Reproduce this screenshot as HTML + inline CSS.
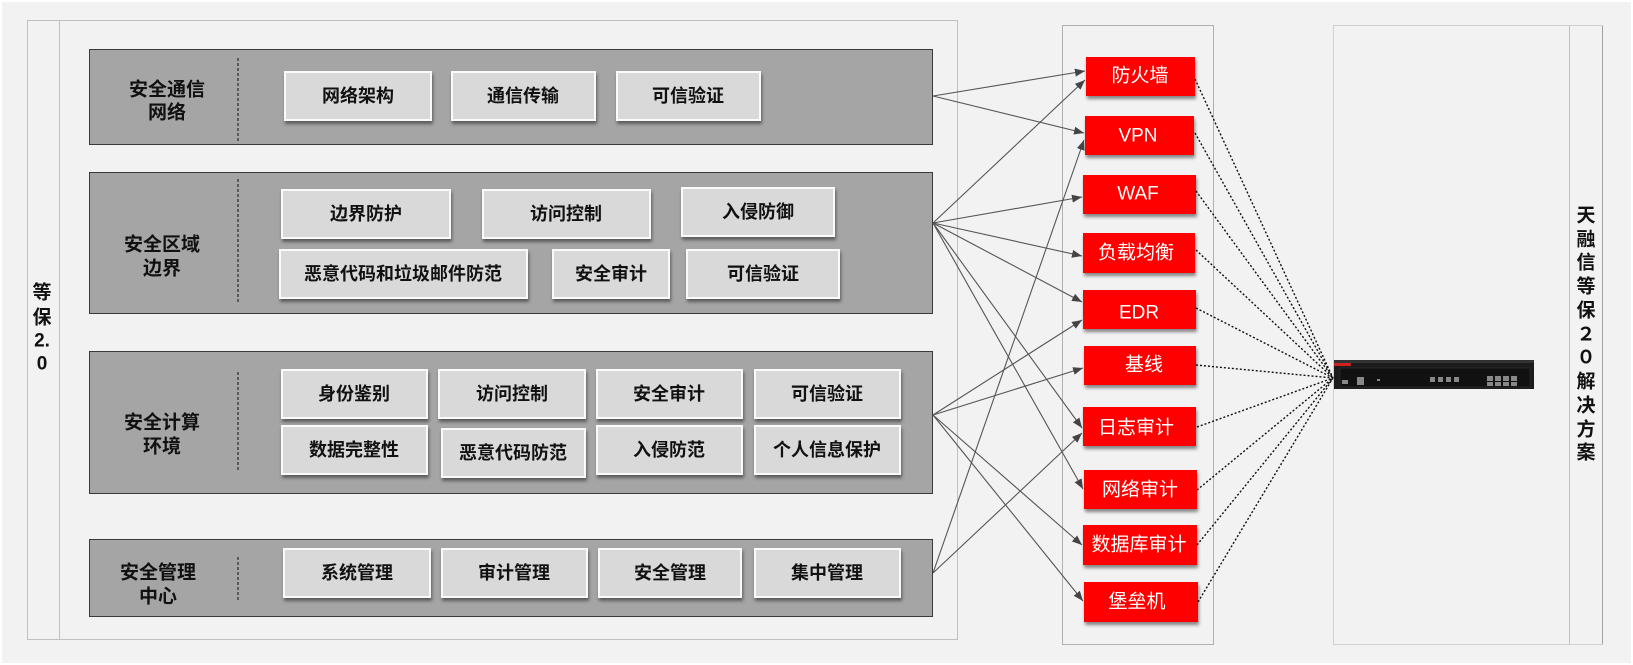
<!DOCTYPE html>
<html><head><meta charset="utf-8"><style>
html,body{margin:0;padding:0;background:#fff;}
svg{display:block;}
.lbl{font-family:"Liberation Sans","Noto Sans CJK SC",sans-serif;font-weight:bold;font-size:19px;fill:#111;}
.it{font-family:"Liberation Sans","Noto Sans CJK SC",sans-serif;font-weight:bold;font-size:18px;fill:#111;}
.rt{font-family:"Liberation Sans","Noto Sans CJK SC",sans-serif;font-size:19px;fill:#fff;}
</style></head><body>
<svg width="1633" height="665" viewBox="0 0 1633 665" xmlns="http://www.w3.org/2000/svg">
<defs>
<marker id="ah" markerWidth="10" markerHeight="8" refX="10" refY="4" orient="auto" markerUnits="userSpaceOnUse">
<path d="M0,0 L10,4 L0,8 Z" fill="#444"/></marker>
<filter id="sh" x="-10%" y="-10%" width="130%" height="150%"><feDropShadow dx="1" dy="3" stdDeviation="1.5" flood-color="#000" flood-opacity="0.45"/></filter>
</defs>
<rect x="2" y="2" width="1629" height="661" fill="#f2f2f2"/>
<!-- left panel -->
<rect x="27.5" y="20.5" width="930" height="619" fill="#f2f2f2" stroke="#c0c0c0"/>
<line x1="59.5" y1="21" x2="59.5" y2="639" stroke="#c0c0c0"/>
<g class="lbl" text-anchor="middle" dominant-baseline="central">
<text x="42" y="293">等</text><text x="42" y="318">保</text><text x="42" y="341">2.</text><text x="42" y="364">0</text>
</g>
<!-- big gray boxes -->
<g fill="#a5a5a5" stroke="#3a3a3a" stroke-width="1">
<rect x="89.5" y="49.5" width="843" height="95"/>
<rect x="89.5" y="172.5" width="843" height="141"/>
<rect x="89.5" y="351.5" width="843" height="142"/>
<rect x="89.5" y="539.5" width="843" height="77"/>
</g>
<g stroke="#333" stroke-dasharray="3,2" stroke-width="1.3">
<line x1="238" y1="58" x2="238" y2="141"/>
<line x1="238" y1="179" x2="238" y2="302"/>
<line x1="238" y1="372" x2="238" y2="470"/>
<line x1="238" y1="557" x2="238" y2="600"/>
</g>
<g class="lbl" text-anchor="middle" dominant-baseline="central">
<text x="167" y="90">安全通信</text><text x="167" y="113">网络</text>
<text x="162" y="245">安全区域</text><text x="162" y="269">边界</text>
<text x="162" y="423">安全计算</text><text x="162" y="447">环境</text>
<text x="158" y="573">安全管理</text><text x="158" y="597">中心</text>
</g>
<!-- items -->
<g fill="#d9d9d9" stroke="#fafafa" stroke-width="2" filter="url(#sh)">
<rect x="285" y="72" width="146" height="48"/>
<rect x="452" y="72" width="143" height="48"/>
<rect x="617" y="72" width="143" height="48"/>
<rect x="282" y="190" width="168" height="48"/>
<rect x="483" y="190" width="167" height="48"/>
<rect x="682" y="188" width="152" height="48"/>
<rect x="280" y="250" width="247" height="48"/>
<rect x="553" y="250" width="116" height="48"/>
<rect x="687" y="250" width="152" height="48"/>
<rect x="282" y="370" width="145" height="48"/>
<rect x="439" y="370" width="146" height="48"/>
<rect x="597" y="370" width="145" height="48"/>
<rect x="755" y="370" width="145" height="48"/>
<rect x="282" y="426" width="145" height="48"/>
<rect x="442" y="429" width="143" height="48"/>
<rect x="597" y="426" width="145" height="48"/>
<rect x="755" y="426" width="145" height="48"/>
<rect x="284" y="549" width="146" height="48"/>
<rect x="442" y="549" width="145" height="48"/>
<rect x="599" y="549" width="142" height="48"/>
<rect x="755" y="549" width="145" height="48"/>
</g>
<g class="it" text-anchor="middle" dominant-baseline="central">
<text x="358" y="96">网络架构</text>
<text x="523" y="96">通信传输</text>
<text x="688" y="96">可信验证</text>
<text x="366" y="214">边界防护</text>
<text x="566" y="214">访问控制</text>
<text x="758" y="212">入侵防御</text>
<text x="403" y="274">恶意代码和垃圾邮件防范</text>
<text x="611" y="274">安全审计</text>
<text x="763" y="274">可信验证</text>
<text x="354" y="394">身份鉴别</text>
<text x="512" y="394">访问控制</text>
<text x="669" y="394">安全审计</text>
<text x="827" y="394">可信验证</text>
<text x="354" y="450">数据完整性</text>
<text x="513" y="453">恶意代码防范</text>
<text x="669" y="450">入侵防范</text>
<text x="827" y="450">个人信息保护</text>
<text x="357" y="573">系统管理</text>
<text x="514" y="573">审计管理</text>
<text x="670" y="573">安全管理</text>
<text x="827" y="573">集中管理</text>
</g>
<!-- middle panel -->
<rect x="1062.5" y="25.5" width="151" height="619" fill="#f2f2f2" stroke="#b0b0b0"/>
<!-- right panel -->
<rect x="1333.5" y="25.5" width="269" height="619" fill="#f2f2f2" stroke="#d0d0d0"/>
<line x1="1569.5" y1="26" x2="1569.5" y2="644" stroke="#c0c0c0"/>
<line x1="1602.5" y1="26" x2="1602.5" y2="644" stroke="#a0a0a0"/>
<g class="lbl" text-anchor="middle" dominant-baseline="central" font-size="20">
<text x="1586" y="216">天</text><text x="1586" y="240">融</text><text x="1586" y="263">信</text><text x="1586" y="287">等</text><text x="1586" y="311">保</text><text x="1586" y="335">２</text><text x="1586" y="358">０</text><text x="1586" y="382">解</text><text x="1586" y="406">决</text><text x="1586" y="430">方</text><text x="1586" y="453">案</text>
</g>
<!-- connectors -->
<g stroke="#555" stroke-width="1.1" fill="none" marker-end="url(#ah)">
<line x1="933" y1="96" x2="1085" y2="71"/>
<line x1="933" y1="96" x2="1084" y2="133"/>
<line x1="933" y1="223" x2="1085" y2="80"/>
<line x1="933" y1="223" x2="1082" y2="197"/>
<line x1="933" y1="223" x2="1082" y2="256"/>
<line x1="933" y1="223" x2="1082" y2="302"/>
<line x1="933" y1="223" x2="1082" y2="428"/>
<line x1="933" y1="223" x2="1083" y2="489"/>
<line x1="933" y1="415" x2="1082" y2="320"/>
<line x1="933" y1="415" x2="1083" y2="368"/>
<line x1="933" y1="415" x2="1082" y2="545"/>
<line x1="933" y1="415" x2="1083" y2="601"/>
<line x1="933" y1="573" x2="1084" y2="140"/>
<line x1="933" y1="573" x2="1082" y2="433"/>
</g>
<!-- red boxes -->
<g fill="#ff0000" filter="url(#sh)">
<rect x="1086" y="57" width="109" height="39"/>
<rect x="1085" y="116" width="109" height="39"/>
<rect x="1083" y="175" width="113" height="39"/>
<rect x="1083" y="233" width="112" height="40"/>
<rect x="1083" y="290" width="113" height="39"/>
<rect x="1084" y="346" width="112" height="39"/>
<rect x="1083" y="407" width="113" height="39"/>
<rect x="1084" y="470" width="113" height="39"/>
<rect x="1083" y="525" width="114" height="40"/>
<rect x="1084" y="582" width="114" height="40"/>
</g>
<g class="rt" text-anchor="middle" dominant-baseline="central">
<text x="1140" y="76">防火墙</text>
<text x="1138" y="136">VPN</text>
<text x="1138" y="194">WAF</text>
<text x="1136" y="253">负载均衡</text>
<text x="1139" y="313">EDR</text>
<text x="1144" y="365">基线</text>
<text x="1136" y="428">日志审计</text>
<text x="1140" y="490">网络审计</text>
<text x="1139" y="545">数据库审计</text>
<text x="1137" y="602">堡垒机</text>
</g>
<g stroke="#111" stroke-width="1.4" stroke-dasharray="2,2" fill="none">
<line x1="1195" y1="79" x2="1333" y2="378"/>
<line x1="1195" y1="133" x2="1333" y2="378"/>
<line x1="1196" y1="191" x2="1333" y2="378"/>
<line x1="1196" y1="250" x2="1333" y2="378"/>
<line x1="1196" y1="308" x2="1333" y2="378"/>
<line x1="1196" y1="365" x2="1333" y2="378"/>
<line x1="1197" y1="427" x2="1333" y2="378"/>
<line x1="1197" y1="490" x2="1333" y2="378"/>
<line x1="1197" y1="545" x2="1333" y2="378"/>
<line x1="1198" y1="602" x2="1333" y2="378"/>
</g>
<!-- device -->
<rect x="1334" y="360" width="200" height="29" fill="#1c1c1c"/>
<rect x="1334" y="360" width="200" height="3" fill="#333"/>
<rect x="1334" y="363" width="17" height="3" rx="1" fill="#d02020"/>
<rect x="1340" y="368" width="190" height="19" fill="#111" stroke="#333" stroke-width="0.5"/>
<g fill="#888">
<rect x="1342" y="380" width="6" height="4"/><rect x="1357" y="377" width="7" height="8"/>
<rect x="1377" y="379" width="3" height="2"/>
<rect x="1430" y="377" width="5" height="5"/><rect x="1438" y="377" width="5" height="5"/><rect x="1446" y="377" width="5" height="5"/><rect x="1454" y="377" width="5" height="5"/>
<rect x="1487" y="376" width="6" height="5"/><rect x="1495" y="376" width="6" height="5"/><rect x="1503" y="376" width="6" height="5"/><rect x="1511" y="376" width="6" height="5"/>
<rect x="1487" y="382" width="6" height="4"/><rect x="1495" y="382" width="6" height="4"/><rect x="1503" y="382" width="6" height="4"/><rect x="1511" y="382" width="6" height="4"/>
</g>
</svg>
</body></html>
